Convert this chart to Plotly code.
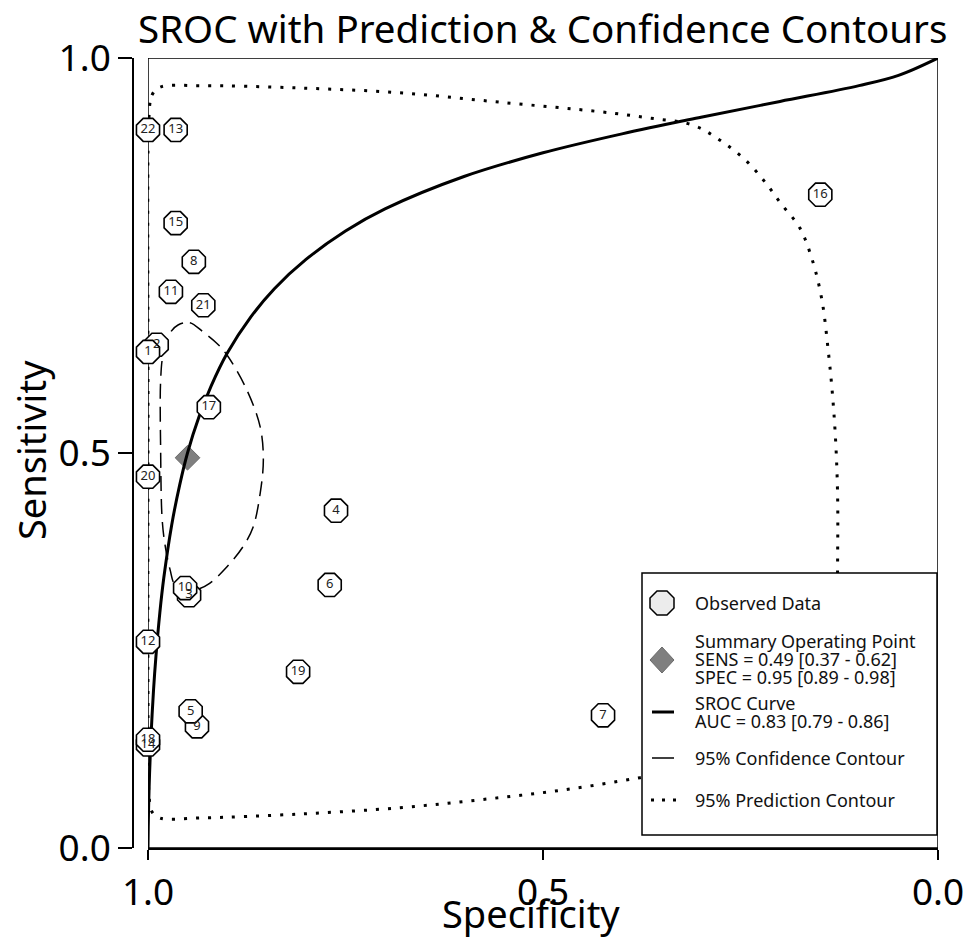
import plotly.graph_objects as go

W, H = 968, 940
FONT = "Noto Sans"

# ---------------- data ----------------
study_labels = ["22", "13", "15", "8", "11", "21", "2", "1", "17", "20", "4", "6",
                "3", "10", "12", "19", "9", "5", "7", "14", "18", "16"]
study_spec = [1.000, 0.965, 0.965, 0.942, 0.971, 0.930, 0.989, 1.000, 0.923, 1.000, 0.762, 0.770,
              0.948, 0.953, 1.000, 0.810, 0.938, 0.946, 0.424, 1.000, 1.000, 0.149]
study_sens = [0.909, 0.909, 0.791, 0.742, 0.704, 0.687, 0.637, 0.628, 0.558, 0.470, 0.427, 0.333,
              0.320, 0.329, 0.261, 0.223, 0.154, 0.173, 0.168, 0.131, 0.137, 0.827]

summary_spec = [0.95]
summary_sens = [0.494]

sroc_spec = [1.000, 0.9997, 0.999, 0.998, 0.996, 0.993, 0.990, 0.985, 0.980, 0.970, 0.960, 0.950,
             0.935, 0.920, 0.900, 0.870, 0.840, 0.800, 0.750, 0.700, 0.600, 0.500, 0.400,
             0.300, 0.200, 0.100, 0.050, 0.000]
sroc_sens = [0.000, 0.027, 0.061, 0.095, 0.145, 0.200, 0.242, 0.298, 0.342, 0.409, 0.459, 0.500,
             0.547, 0.585, 0.626, 0.672, 0.708, 0.745, 0.781, 0.809, 0.850, 0.880, 0.904,
             0.925, 0.945, 0.965, 0.978, 1.000]

conf_spec = [0.962, 0.947, 0.930, 0.913, 0.900, 0.875, 0.858, 0.854, 0.858, 0.867, 0.880, 0.900,
             0.922, 0.938, 0.953, 0.966, 0.972, 0.978, 0.982, 0.984, 0.984, 0.981, 0.972, 0.962]
conf_sens = [0.662, 0.665, 0.653, 0.639, 0.624, 0.580, 0.533, 0.491, 0.449, 0.406, 0.381, 0.356,
             0.335, 0.327, 0.324, 0.333, 0.352, 0.381, 0.415, 0.504, 0.592, 0.624, 0.652, 0.662]

pred_spec = [0.999, 0.995, 0.985, 0.934, 0.808, 0.681, 0.554, 0.428, 0.365, 0.310, 0.276, 0.244,
             0.219, 0.199, 0.175, 0.159, 0.147, 0.139, 0.133, 0.129, 0.127, 0.127, 0.128, 0.133,
             0.149, 0.181, 0.238, 0.301, 0.377, 0.478, 0.580, 0.681, 0.808, 0.934, 0.985, 0.995,
             0.999, 1.000, 1.000, 1.000, 0.999]
pred_sens = [0.922, 0.953, 0.963, 0.965, 0.962, 0.956, 0.944, 0.932, 0.924, 0.915, 0.896, 0.871,
             0.843, 0.816, 0.785, 0.744, 0.694, 0.630, 0.567, 0.504, 0.441, 0.377, 0.314, 0.251,
             0.187, 0.143, 0.118, 0.103, 0.089, 0.073, 0.061, 0.051, 0.043, 0.038, 0.038, 0.046,
             0.073, 0.187, 0.567, 0.884, 0.922]

tick_vals = [1.0, 0.5, 0.0]
tick_text = ["1.0", "0.5", "0.0"]

legend_lines = [
    ("Observed Data", 603),
    ("Summary Operating Point", 641),
    ("SENS = 0.49 [0.37 - 0.62]", 659),
    ("SPEC = 0.95 [0.89 - 0.98]", 677),
    ("SROC Curve", 703),
    ("AUC = 0.83 [0.79 - 0.86]", 721),
    ("95% Confidence Contour", 758),
    ("95% Prediction Contour", 800),
]


def px(x):
    return x / W


def py(y):
    return 1 - y / H


fig = go.Figure()

fig.add_trace(go.Scatter(x=pred_spec, y=pred_sens, mode="lines", line_shape="spline",
                         line=dict(color="black", width=3, dash="3px,9px"),
                         hoverinfo="skip", showlegend=False))
fig.add_trace(go.Scatter(x=conf_spec, y=conf_sens, mode="lines", line_shape="spline",
                         line=dict(color="black", width=1.5, dash="15px,8px"),
                         hoverinfo="skip", showlegend=False))
fig.add_trace(go.Scatter(x=summary_spec, y=summary_sens, mode="markers",
                         marker=dict(symbol="diamond", size=19, color="#7f7f7f",
                                     line=dict(color="#6a6a6a", width=1)),
                         showlegend=False))
fig.add_trace(go.Scatter(x=sroc_spec, y=sroc_sens, mode="lines", line_shape="spline",
                         line=dict(color="black", width=3),
                         hoverinfo="skip", showlegend=False))
fig.add_trace(go.Scatter(x=study_spec, y=study_sens, mode="markers+text",
                         text=study_labels, textposition="middle center", cliponaxis=False,
                         textfont=dict(family=FONT, size=13, color="#222"),
                         marker=dict(symbol="octagon", size=25, color="white",
                                     line=dict(color="black", width=1.6)),
                         showlegend=False))

fig.update_layout(
    template="none",
    width=W, height=H, autosize=False,
    margin=dict(l=0, r=0, t=0, b=0, pad=0, autoexpand=False),
    paper_bgcolor="white", plot_bgcolor="white",
    showlegend=False,
    font=dict(family=FONT, color="black"),
    xaxis=dict(domain=[148 / W, 938 / W], range=[1, 0], tickvals=tick_vals, ticktext=tick_text,
               ticks="outside", ticklen=10, tickwidth=1.5, tickcolor="black", automargin=False,
               showline=True, linecolor="black", linewidth=2.2,
               showgrid=False, zeroline=False, tickfont=dict(size=37, family=FONT)),
    yaxis=dict(domain=[py(848), py(58)], range=[0, 1], tickvals=tick_vals, ticktext=tick_text,
               anchor="free", position=133 / W, automargin=False,
               ticks="outside", ticklen=14, tickwidth=1.5, tickcolor="black",
               showline=True, linecolor="black", linewidth=1.5,
               showgrid=False, zeroline=False, tickfont=dict(size=37, family=FONT)),
)

shapes = [
    dict(type="rect", xref="x", yref="y", x0=1, x1=0, y0=0, y1=1,
         line=dict(color="black", width=1.5), layer="below"),
    # legend box
    dict(type="rect", xref="paper", yref="paper", x0=px(642), x1=px(937), y0=py(835), y1=py(573),
         line=dict(color="black", width=1.5), fillcolor="white", layer="above"),
]


def poly_path(pts):
    return "M " + " L ".join(f"{px(a):.5f},{py(b):.5f}" for a, b in pts) + " Z"


# octagon glyph
cx, cy, r, s = 662, 603, 12, 5
oct_pts = [(cx - s, cy - r), (cx + s, cy - r), (cx + r, cy - s), (cx + r, cy + s),
           (cx + s, cy + r), (cx - s, cy + r), (cx - r, cy + s), (cx - r, cy - s)]
shapes.append(dict(type="path", xref="paper", yref="paper", path=poly_path(oct_pts),
                   fillcolor="#ececec", line=dict(color="black", width=1.5), layer="above"))
# diamond glyph
dx, dy = 662, 660
dia_pts = [(dx, dy - 13), (dx + 12, dy), (dx, dy + 13), (dx - 12, dy)]
shapes.append(dict(type="path", xref="paper", yref="paper", path=poly_path(dia_pts),
                   fillcolor="#7f7f7f", line=dict(color="#6a6a6a", width=1), layer="above"))
# line glyphs
shapes.append(dict(type="line", xref="paper", yref="paper", x0=px(652), x1=px(674), y0=py(712), y1=py(712),
                   line=dict(color="black", width=3), layer="above"))
shapes.append(dict(type="line", xref="paper", yref="paper", x0=px(652), x1=px(674), y0=py(758), y1=py(758),
                   line=dict(color="black", width=1.5), layer="above"))
shapes.append(dict(type="line", xref="paper", yref="paper", x0=px(651), x1=px(676), y0=py(800), y1=py(800),
                   line=dict(color="black", width=3, dash="3px,8px"), layer="above"))

annotations = [
    dict(text="SROC with Prediction & Confidence Contours", x=px(542), y=py(28),
         xref="paper", yref="paper", xanchor="center", yanchor="middle",
         showarrow=False, font=dict(size=38.5, family=FONT)),
    dict(text="Specificity", x=px(531), y=py(913), xref="paper", yref="paper",
         xanchor="center", yanchor="middle",
         showarrow=False, font=dict(size=38, family=FONT)),
    dict(text="Sensitivity", x=px(31), y=py(450), xref="paper", yref="paper", textangle=-90,
         xanchor="center", yanchor="middle",
         showarrow=False, font=dict(size=38, family=FONT)),
]
for txt, yy in legend_lines:
    annotations.append(dict(text=txt, x=px(693), y=py(yy), xref="paper", yref="paper",
                            xanchor="left", yanchor="middle", showarrow=False,
                            font=dict(size=18, family=FONT, color="#111")))

fig.update_layout(shapes=shapes, annotations=annotations)
fig.write_html("out.html")
